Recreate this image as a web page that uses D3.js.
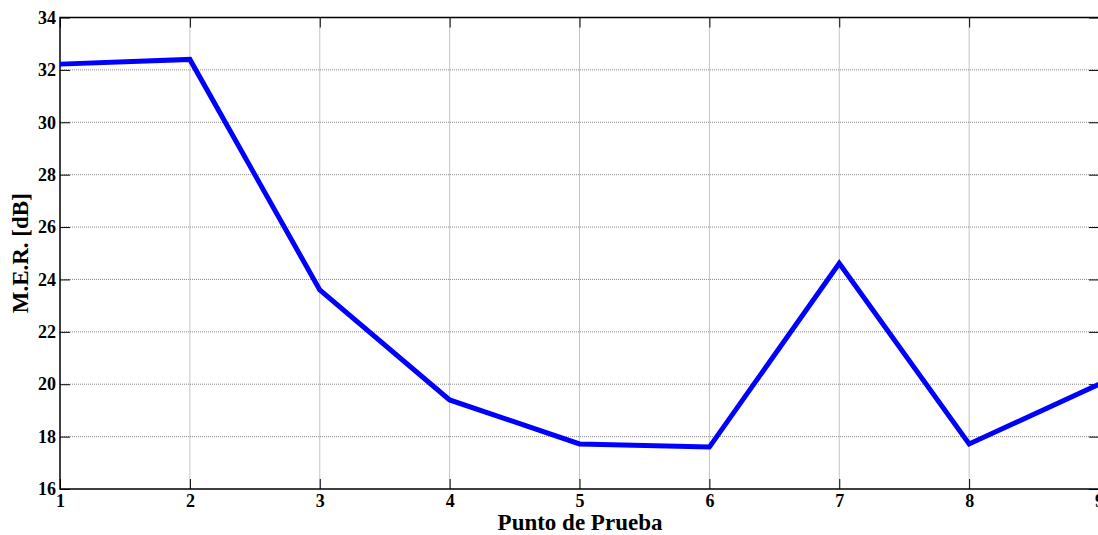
<!DOCTYPE html>
<html>
<head>
<meta charset="utf-8">
<script src="https://cdn.jsdelivr.net/npm/d3@7"></script>
<style>
  body { margin: 0; background: #fff; }
  svg { display: block; }
</style>
</head>
<body>
<svg id="chart" width="1098" height="535"></svg>
<script>
// data
const puntos = [1, 2, 3, 4, 5, 6, 7, 8, 9];
const mer = [32.22, 32.4, 23.6, 19.4, 17.72, 17.6, 24.62, 17.72, 20.0];
const xTicks = [1, 2, 3, 4, 5, 6, 7, 8, 9];
const yTicks = [16, 18, 20, 22, 24, 26, 28, 30, 32, 34];

const serif = "'Liberation Serif', 'Times New Roman', serif";

const svg = d3.select("#chart");
const margin = {left: 60, top: 17.5, right: -1, bottom: 46};
const width = +svg.attr("width");
const height = +svg.attr("height");

const x = d3.scaleLinear()
  .domain([1, 9])
  .range([margin.left, width - margin.right]);

const y = d3.scaleLinear()
  .domain([16, 34])
  .range([height - margin.bottom, margin.top]);

// grid
const grid = svg.append("g")
  .attr("stroke", "#8a8a8a")
  .attr("stroke-width", 1)
  .attr("stroke-dasharray", "1,1");

grid.selectAll(".gx")
  .data(xTicks.slice(1, -1))
  .enter().append("line")
  .attr("x1", d => x(d)).attr("x2", d => x(d))
  .attr("y1", y(34)).attr("y2", y(16));

grid.selectAll(".gy")
  .data(yTicks.slice(1, -1))
  .enter().append("line")
  .attr("x1", x(1)).attr("x2", x(9))
  .attr("y1", d => y(d)).attr("y2", d => y(d));

// axes (ticks pointing inwards, like matlab)
function styleAxis(g) {
  g.select(".domain").remove();
  g.attr("font-family", serif).attr("font-size", 18).attr("font-weight", "bold");
  g.selectAll(".tick line").attr("stroke", "#000").attr("stroke-width", 1);
  g.selectAll(".tick text").attr("fill", "#000");
}

svg.append("g")
  .attr("transform", `translate(0, ${y(16)})`)
  .call(d3.axisBottom(x).tickValues(xTicks).tickSize(-10).tickPadding(5).tickSizeOuter(0))
  .call(styleAxis);

svg.append("g")
  .attr("transform", `translate(0, ${y(34)})`)
  .call(d3.axisTop(x).tickValues(xTicks).tickSize(-10).tickFormat("").tickSizeOuter(0))
  .call(styleAxis);

svg.append("g")
  .attr("transform", `translate(${x(1)}, 0)`)
  .call(d3.axisLeft(y).tickValues(yTicks).tickSize(-10).tickPadding(4).tickSizeOuter(0))
  .call(styleAxis);

svg.append("g")
  .attr("transform", `translate(${x(9)}, 0)`)
  .call(d3.axisRight(y).tickValues(yTicks).tickSize(-10).tickFormat("").tickSizeOuter(0))
  .call(styleAxis);

// frame
svg.append("rect")
  .attr("x", x(1)).attr("y", y(34))
  .attr("width", x(9) - x(1)).attr("height", y(16) - y(34))
  .attr("fill", "none")
  .attr("stroke", "#000")
  .attr("stroke-width", 1.5);

// series
const line = d3.line()
  .x((d, i) => x(puntos[i]))
  .y(d => y(d));

svg.append("path")
  .datum(mer)
  .attr("fill", "none")
  .attr("stroke", "#0000ff")
  .attr("stroke-width", 5)
  .attr("d", line);

// labels
svg.append("text")
  .attr("x", 580).attr("y", 530)
  .attr("text-anchor", "middle")
  .style("font-family", serif)
  .style("font-weight", "bold")
  .style("font-size", "23px")
  .text("Punto de Prueba");

svg.append("text")
  .attr("transform", `translate(28, ${(y(16) + y(34)) / 2}) rotate(-90)`)
  .attr("text-anchor", "middle")
  .style("font-family", serif)
  .style("font-weight", "bold")
  .style("font-size", "23px")
  .text("M.E.R. [dB]");
</script>
</body>
</html>
